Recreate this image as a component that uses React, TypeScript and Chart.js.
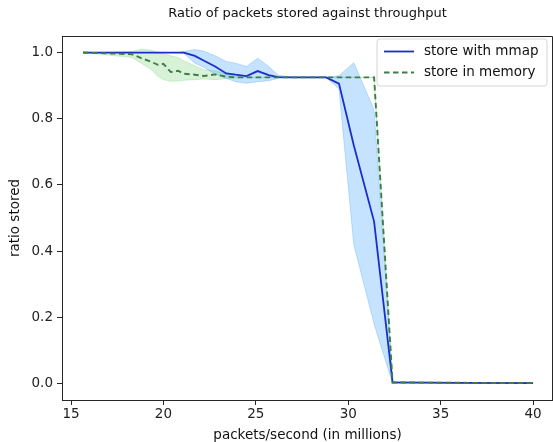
import React, { useEffect, useRef } from 'react';
import { Chart, registerables } from 'chart.js';

Chart.register(...registerables);

// packets/second (in millions)
const throughput = [15.65, 18.3, 18.8, 19.3, 19.7, 20.0, 20.4, 20.8, 21.1, 21.7, 22.2, 22.8, 23.4, 23.9, 24.5, 25.1, 25.7, 26.2, 27.0, 28.0, 28.8, 29.5, 30.3, 31.4, 32.4, 36.0, 40.0];

// store with mmap
const mmapMean = [1.0, 1.0, 1.0, 1.0, 1.0, 1.0, 1.0, 1.0, 1.0, 0.99, 0.975, 0.958, 0.937, 0.933, 0.929, 0.944, 0.932, 0.926, 0.925, 0.925, 0.925, 0.906, 0.72, 0.489, 0.003, 0.002, 0.001];
const mmapLower = [1.0, 1.0, 1.0, 1.0, 1.0, 1.0, 1.0, 1.0, 0.998, 0.968, 0.955, 0.935, 0.922, 0.912, 0.907, 0.912, 0.915, 0.922, 0.925, 0.925, 0.925, 0.89, 0.42, 0.18, 0.0, 0.002, 0.001];
const mmapUpper = [1.0, 1.0, 1.0, 1.0, 1.0, 1.0, 1.0, 1.0, 1.003, 1.009, 1.004, 0.99, 0.973, 0.968, 0.958, 0.983, 0.958, 0.932, 0.925, 0.925, 0.925, 0.93, 0.969, 0.827, 0.006, 0.002, 0.001];

// store in memory
const memMean = [1.0, 0.995, 0.983, 0.973, 0.963, 0.966, 0.941, 0.945, 0.936, 0.933, 0.929, 0.934, 0.927, 0.925, 0.925, 0.925, 0.925, 0.925, 0.925, 0.925, 0.925, 0.925, 0.925, 0.925, 0.003, 0.002, 0.001];
const memLower = [1.0, 0.985, 0.968, 0.95, 0.928, 0.918, 0.913, 0.914, 0.916, 0.918, 0.92, 0.918, 0.921, 0.923, 0.925, 0.925, 0.925, 0.925, 0.925, 0.925, 0.925, 0.925, 0.925, 0.925, 0.003, 0.002, 0.001];
const memUpper = [1.0, 1.003, 1.01, 1.008, 1.0, 0.997, 0.99, 0.985, 0.975, 0.96, 0.948, 0.945, 0.935, 0.928, 0.925, 0.925, 0.925, 0.925, 0.925, 0.925, 0.925, 0.925, 0.925, 0.925, 0.003, 0.002, 0.001];

const xTicks = [15, 20, 25, 30, 35, 40];
const yTicks = [0.0, 0.2, 0.4, 0.6, 0.8, 1.0];

const TITLE = 'Ratio of packets stored against throughput';
const X_LABEL = 'packets/second (in millions)';
const Y_LABEL = 'ratio stored';
const LEGEND_LABELS = ['store with mmap', 'store in memory'];

const BLUE = '#1a2ecb';
const GREEN = '#3e7d47';
const BLUE_FILL = 'rgba(40,150,250,0.27)';
const GREEN_FILL = 'rgba(110,210,110,0.28)';
const AXIS = '#262626';
const FONT = 'DejaVu Sans';

export default function App() {
  const ref = useRef<HTMLCanvasElement>(null);

  useEffect(() => {
    if (!ref.current) return;
    const pts = (ys: number[]) => throughput.map((x, i) => ({ x, y: ys[i] }));

    const overlay = {
      id: 'overlay',
      afterDraw(chart: any) {
        const { ctx, chartArea } = chart;
        const { left, right, top, bottom } = chartArea;
        ctx.save();
        // top & right spines
        ctx.strokeStyle = AXIS;
        ctx.lineWidth = 1;
        ctx.beginPath();
        ctx.moveTo(left, top + 0.5);
        ctx.lineTo(right - 0.5, top + 0.5);
        ctx.lineTo(right - 0.5, bottom);
        ctx.stroke();

        // title
        ctx.fillStyle = '#111';
        ctx.font = `13px "${FONT}"`;
        ctx.textAlign = 'center';
        ctx.textBaseline = 'middle';
        ctx.fillText(TITLE, (left + right) / 2, 14);

        // legend
        const bw = 170, bh = 47;
        const bx = right - 6 - bw, by = top + 3;
        ctx.beginPath();
        const r = 3;
        ctx.moveTo(bx + r, by);
        ctx.lineTo(bx + bw - r, by);
        ctx.arcTo(bx + bw, by, bx + bw, by + r, r);
        ctx.lineTo(bx + bw, by + bh - r);
        ctx.arcTo(bx + bw, by + bh, bx + bw - r, by + bh, r);
        ctx.lineTo(bx + r, by + bh);
        ctx.arcTo(bx, by + bh, bx, by + bh - r, r);
        ctx.lineTo(bx, by + r);
        ctx.arcTo(bx, by, bx + r, by, r);
        ctx.closePath();
        ctx.fillStyle = 'rgba(255,255,255,0.85)';
        ctx.fill();
        ctx.strokeStyle = '#d6d6d6';
        ctx.stroke();

        const rows = [by + 12.5, by + 33.5];
        const colors = [BLUE, GREEN];
        const dashes = [[], [5.5, 3.5]];
        rows.forEach((yy, i) => {
          ctx.beginPath();
          ctx.setLineDash(dashes[i]);
          ctx.strokeStyle = colors[i];
          ctx.lineWidth = 1.8;
          ctx.moveTo(bx + 7, yy);
          ctx.lineTo(bx + 37, yy);
          ctx.stroke();
          ctx.setLineDash([]);
          ctx.fillStyle = '#111';
          ctx.font = `13.5px "${FONT}"`;
          ctx.textAlign = 'left';
          ctx.textBaseline = 'middle';
          ctx.fillText(LEGEND_LABELS[i], bx + 47, yy);
        });
        ctx.restore();
      },
    };

    const tickFont = { family: FONT, size: 13.5 };

    const chart = new Chart(ref.current, {
      type: 'line',
      data: {
        datasets: [
          { label: LEGEND_LABELS[1], data: pts(memMean), borderColor: GREEN, borderDash: [5.5, 3.5], borderWidth: 1.9, pointRadius: 0, fill: false, order: 0 },
          { label: LEGEND_LABELS[0], data: pts(mmapMean), borderColor: BLUE, borderWidth: 1.8, pointRadius: 0, fill: false, order: 1 },
          { label: 'mmap upper', data: pts(mmapUpper), borderColor: BLUE_FILL, borderWidth: 1, pointRadius: 0, fill: '+1', backgroundColor: BLUE_FILL, order: 2 },
          { label: 'mmap lower', data: pts(mmapLower), borderColor: BLUE_FILL, borderWidth: 1, pointRadius: 0, fill: false, order: 2 },
          { label: 'mem upper', data: pts(memUpper), borderColor: GREEN_FILL, borderWidth: 1, pointRadius: 0, fill: '+1', backgroundColor: GREEN_FILL, order: 3 },
          { label: 'mem lower', data: pts(memLower), borderColor: GREEN_FILL, borderWidth: 1, pointRadius: 0, fill: false, order: 3 },
        ],
      },
      options: {
        animation: false,
        responsive: false,
        layout: { padding: { top: 36, right: 0, left: 0, bottom: 0 } },
        plugins: { legend: { display: false }, tooltip: { enabled: false }, title: { display: false } },
        elements: { line: { tension: 0 } },
        scales: {
          x: {
            type: 'linear',
            min: 14.513,
            max: 41.08,
            afterBuildTicks: (s: any) => { s.ticks = xTicks.map((v) => ({ value: v })); },
            afterFit: (s: any) => { s.height = 42; },
            ticks: { font: tickFont, color: '#222', padding: 1, maxRotation: 0, autoSkip: false, callback: (v: any) => String(v) },
            grid: { display: true, drawOnChartArea: false, drawTicks: true, tickLength: 5, color: AXIS },
            border: { display: true, color: AXIS, width: 1 },
            title: { display: true, text: X_LABEL, font: { family: FONT, size: 13.5, lineHeight: 1 }, color: '#111', padding: 0 },
          },
          y: {
            type: 'linear',
            min: -0.05,
            max: 1.05,
            afterBuildTicks: (s: any) => { s.ticks = yTicks.map((v) => ({ value: v })); },
            afterFit: (s: any) => { s.width = 62; },
            ticks: { font: tickFont, color: '#222', padding: 4, autoSkip: false, callback: (v: any) => Number(v).toFixed(1) },
            grid: { display: true, drawOnChartArea: false, drawTicks: true, tickLength: 5, color: AXIS },
            border: { display: true, color: AXIS, width: 1 },
            title: { display: true, text: Y_LABEL, font: { family: FONT, size: 13.5, lineHeight: 1.2 }, color: '#111', padding: { top: 7, bottom: 0 } },
          },
        },
      },
      plugins: [overlay],
    } as any);

    return () => chart.destroy();
  }, []);

  return (
    <div style={{ position: 'absolute', left: 0, top: 0, width: 553, height: 442, background: '#fff' }}>
      <canvas ref={ref} width={553} height={442} style={{ display: 'block' }} />
    </div>
  );
}
